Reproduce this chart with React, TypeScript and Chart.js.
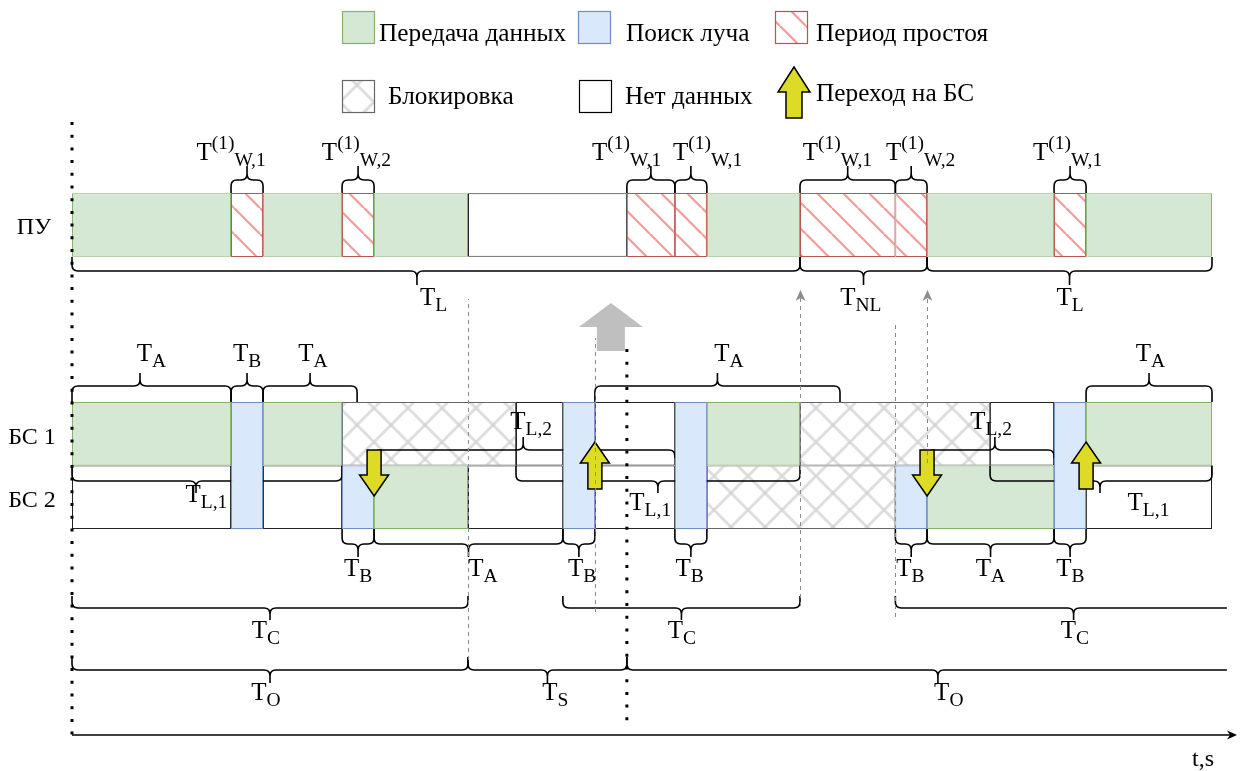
import React, { useEffect, useRef } from 'react';
import { Chart, registerables } from 'chart.js';

Chart.register(...registerables);

type Seg = [number, number];

// ---------------- data (time units, 1 unit = T_B / 10) ----------------
const T_END = 363.4375;

const puTransfer: Seg[] = [[0, 49.7], [59.7, 84.4], [94.4, 123.75], [198.4, 227.5], [267.2, 306.9], [316.9, 356.25]];
const puIdle: Seg[] = [[49.7, 59.7], [84.4, 94.4], [173.4, 188.4], [188.4, 198.4], [227.5, 257.3], [257.3, 267.2], [306.9, 316.9]];
const puNoData: Seg[] = [[123.75, 173.4]];

const bs1Transfer: Seg[] = [[0, 49.7], [59.7, 84.4], [198.4, 227.5], [316.9, 356.25]];
const bs1Blocked: Seg[] = [[84.4, 138.75], [227.5, 286.9]];
const bs1NoData: Seg[] = [[138.75, 153.4], [163.4, 188.4], [286.9, 306.9]];

const bs2Transfer: Seg[] = [[94.4, 123.75], [267.2, 306.9]];
const bs2Blocked: Seg[] = [[198.4, 257.3]];
const bs2NoData: Seg[] = [[0, 49.7], [59.7, 84.4], [123.75, 153.4], [163.4, 188.4], [316.9, 356.25]];

const beamSearchBoth: Seg[] = [[49.7, 59.7], [153.4, 163.4], [188.4, 198.4], [306.9, 316.9]];
const beamSearchBs2: Seg[] = [[84.4, 94.4], [257.3, 267.2]];

const handoverTimes = [94.4, 163.4, 267.2, 316.9];
const handoverDirs = ['down', 'up', 'down', 'up'];

type Brace = { from: number; to: number; tip?: number; openRight?: boolean };
type Lbl = { t: number; sub: string; sup?: string; base?: number };

const puTopBraces: Brace[] = puIdle.map(([a, b]) => ({ from: a, to: b }));
const puTopLabels: Lbl[] = [
  { t: 49.7, sup: '(1)', sub: 'W,1' }, { t: 88.9, sup: '(1)', sub: 'W,2' }, { t: 173.3, sup: '(1)', sub: 'W,1' },
  { t: 198.6, sup: '(1)', sub: 'W,1' }, { t: 239.2, sup: '(1)', sub: 'W,1' }, { t: 265.2, sup: '(1)', sub: 'W,2' },
  { t: 311.1, sup: '(1)', sub: 'W,1' },
];
const puBottomBraces: Brace[] = [{ from: 0, to: 227.5, tip: 107.8 }, { from: 227.5, to: 267.2 }, { from: 267.2, to: 356.25 }];
const puBottomLabels: Lbl[] = [{ t: 113, sub: 'L' }, { t: 246.5, sub: 'NL' }, { t: 311.9, sub: 'L' }];

const bsTopBraces: Brace[] = [
  { from: 0, to: 49.7, tip: 21.25 }, { from: 49.7, to: 59.7 }, { from: 59.7, to: 89.1 },
  { from: 163.4, to: 240 }, { from: 316.9, to: 356.25 },
];
const bsTopLabels: Lbl[] = [{ t: 24.8, sub: 'A' }, { t: 54.7, sub: 'B' }, { t: 75.3, sub: 'A' }, { t: 205.3, sub: 'A' }, { t: 337, sub: 'A' }];

const midDownBraces: Brace[] = [{ from: 0, to: 84.4, tip: 38.75 }, { from: 138.75, to: 227.5, tip: 183.1 }, { from: 286.9, to: 356.25, tip: 321.25 }];
const midDownLabels: Lbl[] = [{ t: 42, sub: 'L,1', base: 502 }, { t: 180.7, sub: 'L,1', base: 510 }, { t: 336.4, sub: 'L,1', base: 510 }];
const midUpBraces: Brace[] = [{ from: 94.4, to: 188.4, tip: 141 }, { from: 267.2, to: 306.9, tip: 288.4 }];
const midUpLabels: Lbl[] = [{ t: 143.5, sub: 'L,2' }, { t: 287.2, sub: 'L,2' }];

const bsBottomBraces: Brace[] = [
  { from: 84.4, to: 94.4 }, { from: 94.4, to: 153.4 }, { from: 153.4, to: 163.4 }, { from: 188.4, to: 198.4 },
  { from: 257.3, to: 267.2 }, { from: 267.2, to: 306.9 }, { from: 306.9, to: 316.9 },
];
const bsBottomLabels: Lbl[] = [
  { t: 89.4, sub: 'B' }, { t: 128.4, sub: 'A' }, { t: 159.4, sub: 'B' }, { t: 193, sub: 'B' },
  { t: 262, sub: 'B' }, { t: 287, sub: 'A' }, { t: 312, sub: 'B' },
];
const tcBraces: Brace[] = [{ from: 0, to: 123.75 }, { from: 153.4, to: 227.5 }, { from: 257.3, to: 360.9, tip: 313, openRight: true }];
const tcLabels: Lbl[] = [{ t: 60.6, sub: 'C' }, { t: 190.6, sub: 'C' }, { t: 313.4, sub: 'C' }];
const toBraces: Brace[] = [{ from: 0, to: 123.75 }, { from: 123.75, to: 173.4 }, { from: 173.4, to: 360.9, tip: 270.6, openRight: true }];
const toLabels: Lbl[] = [{ t: 60.6, sub: 'O' }, { t: 151, sub: 'S' }, { t: 274, sub: 'O' }];

const dashedTimes = [123.75, 163.4, 227.5, 257.3, 267.2];
const dotted = [0, 173.4];
const bsSwitchTime = 168.4;

// ---------------- layout / style ----------------
const FONT = '"Liberation Serif", "Times New Roman", serif';
const LANE = { pu: 225, bs1: 433.75, bs2: 497.25, both: 465.5 };
const GREEN = '#d5e8d4', GREEN_S = '#82b366';
const BLUE = '#dae8fc', BLUE_S = '#6c8ebf';
const RED_S = '#b85450';
const YELLOW = '#dddb25';

function makeHatch(ctx: CanvasRenderingContext2D, cross: boolean) {
  const s = cross ? 34 : 26;
  const c = document.createElement('canvas');
  c.width = s; c.height = s;
  const g = c.getContext('2d')!;
  g.fillStyle = '#ffffff';
  g.fillRect(0, 0, s, s);
  g.strokeStyle = cross ? 'rgba(205,205,205,0.65)' : 'rgba(238,112,108,0.7)';
  g.lineWidth = cross ? 3 : 2.2;
  for (const k of [-1, 0, 1]) {
    g.beginPath(); g.moveTo(k * s, 0); g.lineTo(k * s + s, s); g.stroke();
    if (cross) { g.beginPath(); g.moveTo(k * s, s); g.lineTo(k * s + s, 0); g.stroke(); }
  }
  return ctx.createPattern(c, 'repeat')!;
}

function drawBrace(ctx: CanvasRenderingContext2D, x1: number, x2: number, xt: number, yLine: number, yEnd: number, yTip: number, openRight = false) {
  const r = 6;
  const sE = Math.sign(yEnd - yLine);
  const sT = Math.sign(yTip - yLine);
  ctx.beginPath();
  ctx.moveTo(x1, yEnd);
  ctx.lineTo(x1, yLine + sE * r);
  ctx.quadraticCurveTo(x1, yLine, x1 + r, yLine);
  ctx.lineTo(xt - r, yLine);
  ctx.quadraticCurveTo(xt, yLine, xt, yLine + sT * r);
  ctx.lineTo(xt, yTip);
  ctx.moveTo(xt, yLine + sT * r);
  ctx.quadraticCurveTo(xt, yLine, xt + r, yLine);
  if (openRight) {
    ctx.lineTo(x2, yLine);
  } else {
    ctx.lineTo(x2 - r, yLine);
    ctx.quadraticCurveTo(x2, yLine, x2, yLine + sE * r);
    ctx.lineTo(x2, yEnd);
  }
  ctx.strokeStyle = '#000';
  ctx.lineWidth = 1.6;
  ctx.setLineDash([]);
  ctx.stroke();
}

function drawT(ctx: CanvasRenderingContext2D, cx: number, base: number, sub: string, sup?: string) {
  const mainF = `25px ${FONT}`;
  const smallF = `19.5px ${FONT}`;
  ctx.font = mainF;
  const wm = ctx.measureText('T').width;
  ctx.font = smallF;
  const wsup = sup ? ctx.measureText(sup).width : 0;
  const wsub = ctx.measureText(sub).width;
  let x = cx - (wm + wsup + wsub) / 2;
  ctx.fillStyle = '#000';
  ctx.textAlign = 'left';
  ctx.textBaseline = 'alphabetic';
  ctx.font = mainF;
  ctx.fillText('T', x, base);
  x += wm;
  ctx.font = smallF;
  if (sup) { ctx.fillText(sup, x, base - 11); x += wsup; }
  ctx.fillText(sub, x, base + 6);
}

function blockArrow(ctx: CanvasRenderingContext2D, xc: number, yTip: number, yTail: number, hl: number, hw: number, bw: number, fill: string, stroke: boolean) {
  const d = Math.sign(yTail - yTip);
  const yh = yTip + d * hl;
  ctx.beginPath();
  ctx.moveTo(xc, yTip);
  ctx.lineTo(xc + hw / 2, yh);
  ctx.lineTo(xc + bw / 2, yh);
  ctx.lineTo(xc + bw / 2, yTail);
  ctx.lineTo(xc - bw / 2, yTail);
  ctx.lineTo(xc - bw / 2, yh);
  ctx.lineTo(xc - hw / 2, yh);
  ctx.closePath();
  ctx.fillStyle = fill;
  ctx.fill();
  if (stroke) {
    ctx.setLineDash([]);
    ctx.strokeStyle = '#000';
    ctx.lineWidth = 1.5;
    ctx.stroke();
  }
}

export default function App() {
  const ref = useRef<HTMLCanvasElement>(null);

  useEffect(() => {
    const canvas = ref.current!;
    const c0 = canvas.getContext('2d')!;
    const hatch = makeHatch(c0, false);
    const cross = makeHatch(c0, true);

    const pts = (segs: Seg[], y: number) => segs.map(([a, b]) => ({ x: [a, b], y }));
    const common = { borderWidth: 1, borderSkipped: false, inflateAmount: 0, stack: 'all' };

    const overlay = {
      id: 'overlay',
      beforeDatasetDraw(chart: any, args: any) {
        if (args.index !== 1) return;
        const ctx = chart.ctx;
        const X = (t: number) => chart.scales.x.getPixelForValue(t);
        const Y = (v: number) => chart.scales.y.getPixelForValue(v);
        ctx.save();
        midDownBraces.forEach(b => drawBrace(ctx, X(b.from), X(b.to), X(b.tip ?? (b.from + b.to) / 2), Y(481), Y(465.5), Y(493)));
        midUpBraces.forEach(b => drawBrace(ctx, X(b.from), X(b.to), X(b.tip ?? (b.from + b.to) / 2), Y(450), Y(458), Y(437)));
        ctx.restore();
      },
      afterDatasetsDraw(chart: any) {
        const ctx: CanvasRenderingContext2D = chart.ctx;
        const X = (t: number) => chart.scales.x.getPixelForValue(t);
        const Y = (v: number) => chart.scales.y.getPixelForValue(v);
        ctx.save();

        // braces
        const group = (list: Brace[], yl: number, ye: number, yt: number) =>
          list.forEach(b => drawBrace(ctx, X(b.from), X(b.to), X(b.tip ?? (b.from + b.to) / 2), Y(yl), Y(ye), Y(yt), b.openRight));
        group(puTopBraces, 180, 193, 166);
        group(puBottomBraces, 271, 257, 285);
        group(bsTopBraces, 386, 402, 373);
        group(bsBottomBraces, 544, 529, 557);
        group(tcBraces, 608, 596, 620);
        group(toBraces, 670, 657, 683);

        // handover arrows
        handoverTimes.forEach((t, i) => {
          if (handoverDirs[i] === 'down') blockArrow(ctx, X(t), Y(496), Y(450), 21, 29, 14, YELLOW, true);
          else blockArrow(ctx, X(t), Y(442), Y(489), 21, 29, 14, YELLOW, true);
        });
        // gray arrow (switch of serving BS)
        blockArrow(ctx, X(bsSwitchTime), Y(303), Y(351), 24, 64, 28, '#bfbfbf', false);

        // dashed lines
        const dashSpec: [number, number, boolean][] = [[299, 660, false], [338, 612, false], [290, 606, true], [322, 617, false], [290, 463, true]];
        dashedTimes.forEach((t, i) => {
          const [y1, y2, arrow] = dashSpec[i];
          const x = Math.round(X(t)) + 0.5;
          ctx.beginPath();
          ctx.setLineDash([4, 4]);
          ctx.strokeStyle = '#8c8c8c';
          ctx.lineWidth = 1;
          ctx.moveTo(x, Y(y2));
          ctx.lineTo(x, Y(y1) + (arrow ? 6 : 0));
          ctx.stroke();
          ctx.setLineDash([]);
          if (arrow) {
            ctx.beginPath();
            ctx.moveTo(x, Y(y1));
            ctx.lineTo(x + 5, Y(y1) + 11);
            ctx.lineTo(x, Y(y1) + 8);
            ctx.lineTo(x - 5, Y(y1) + 11);
            ctx.closePath();
            ctx.fillStyle = '#8c8c8c';
            ctx.fill();
          }
        });

        // dotted lines
        const dotSpec: [number, number][] = [[122, 735], [349, 722]];
        dotted.forEach((t, i) => {
          const x = X(t);
          ctx.beginPath();
          ctx.setLineDash([3, 9.7]);
          ctx.strokeStyle = '#000';
          ctx.lineWidth = 3;
          ctx.moveTo(x, Y(dotSpec[i][0]));
          ctx.lineTo(x, Y(dotSpec[i][1]));
          ctx.stroke();
        });
        ctx.setLineDash([]);

        // labels
        puTopLabels.forEach(l => drawT(ctx, X(l.t), Y(160), l.sub, l.sup));
        puBottomLabels.forEach(l => drawT(ctx, X(l.t), Y(305), l.sub));
        bsTopLabels.forEach(l => drawT(ctx, X(l.t), Y(361), l.sub));
        midDownLabels.forEach(l => drawT(ctx, X(l.t), Y(l.base ?? 510), l.sub));
        midUpLabels.forEach(l => drawT(ctx, X(l.t), Y(429), l.sub));
        bsBottomLabels.forEach(l => drawT(ctx, X(l.t), Y(576), l.sub));
        tcLabels.forEach(l => drawT(ctx, X(l.t), Y(638), l.sub));
        toLabels.forEach(l => drawT(ctx, X(l.t), Y(700), l.sub));

        // row names
        ctx.font = `24px ${FONT}`;
        ctx.fillStyle = '#000';
        ctx.textAlign = 'center';
        ctx.fillText('ПУ', 34, Y(234));
        ctx.fillText('БС 1', 32, Y(444));
        ctx.fillText('БС 2', 32, Y(507));

        // time axis
        const ax0 = X(0), ax1 = X(T_END);
        ctx.beginPath();
        ctx.strokeStyle = '#000';
        ctx.lineWidth = 1.6;
        ctx.moveTo(ax0, Y(735));
        ctx.lineTo(ax1 - 4, Y(735));
        ctx.stroke();
        ctx.beginPath();
        ctx.moveTo(ax1 + 2, Y(735));
        ctx.lineTo(ax1 - 8, Y(730.5));
        ctx.lineTo(ax1 - 5, Y(735));
        ctx.lineTo(ax1 - 8, Y(739.5));
        ctx.closePath();
        ctx.fillStyle = '#000';
        ctx.fill();
        ctx.textAlign = 'left';
        ctx.fillText('t,s', 1192, Y(766));

        // legend
        const box = (x: number, y: number, fill: any, stroke: string) => {
          ctx.fillStyle = fill;
          ctx.fillRect(x, y, 32, 32);
          ctx.strokeStyle = stroke;
          ctx.lineWidth = 1.2;
          ctx.strokeRect(x + 0.5, y + 0.5, 32, 32);
        };
        box(342, 11, GREEN, GREEN_S);
        box(578, 11, BLUE, BLUE_S);
        box(775, 11, hatch, RED_S);
        box(342, 80, cross, '#666666');
        box(579, 80, '#ffffff', '#000000');
        blockArrow(ctx, 794, 67, 118, 25, 32, 16, YELLOW, true);
        ctx.font = `25.3px ${FONT}`;
        ctx.fillStyle = '#000';
        ctx.textAlign = 'left';
        ctx.fillText('Передача данных', 379, 41);
        ctx.fillText('Поиск луча', 626, 41);
        ctx.fillText('Период простоя', 816, 41);
        ctx.fillText('Блокировка', 388, 104);
        ctx.fillText('Нет данных', 625, 104);
        ctx.fillText('Переход на БС', 816, 101);

        ctx.restore();
      },
    };

    const chart = new Chart(canvas, {
      type: 'bar',
      data: {
        datasets: [
          { label: 'Поиск луча', data: pts(beamSearchBoth, LANE.both), backgroundColor: BLUE, borderColor: BLUE_S, barThickness: 127, order: 1, ...common },
          { label: 'Поиск луча БС 2', data: pts(beamSearchBs2, LANE.bs2), backgroundColor: BLUE, borderColor: BLUE_S, barThickness: 63.5, order: 2, ...common },
          { label: 'Период простоя', data: pts(puIdle, LANE.pu), backgroundColor: hatch, borderColor: RED_S, barThickness: 64, order: 3, ...common },
          {
            label: 'Передача данных',
            data: [...pts(puTransfer, LANE.pu), ...pts(bs1Transfer, LANE.bs1), ...pts(bs2Transfer, LANE.bs2)],
            backgroundColor: GREEN, borderColor: GREEN_S, barThickness: 63.5, order: 4, ...common,
          },
          {
            label: 'Блокировка',
            data: [...pts(bs1Blocked, LANE.bs1), ...pts(bs2Blocked, LANE.bs2)],
            backgroundColor: cross, borderColor: '#666666', barThickness: 63.5, order: 5, ...common,
          },
          {
            label: 'Нет данных',
            data: [...pts(puNoData, LANE.pu), ...pts(bs1NoData, LANE.bs1), ...pts(bs2NoData, LANE.bs2)],
            backgroundColor: '#ffffff', borderColor: '#222222', barThickness: 63.5, order: 6, ...common,
          },
        ] as any,
      },
      options: {
        indexAxis: 'y',
        animation: false,
        responsive: false,
        layout: { padding: { left: 72, right: 12, top: 0, bottom: 0 } },
        scales: {
          x: { type: 'linear', min: 0, max: T_END, display: false, stacked: false },
          y: { type: 'linear', min: 0, max: 771, reverse: true, display: false, stacked: true, offset: false },
        },
        plugins: { legend: { display: false }, tooltip: { enabled: false } },
      } as any,
      plugins: [overlay],
    });
    return () => chart.destroy();
  }, []);

  return (
    <div style={{ position: 'absolute', left: 0, top: 0, width: 1247, height: 771, background: '#fff' }}>
      <canvas ref={ref} width={1247} height={771} style={{ display: 'block' }} />
    </div>
  );
}
